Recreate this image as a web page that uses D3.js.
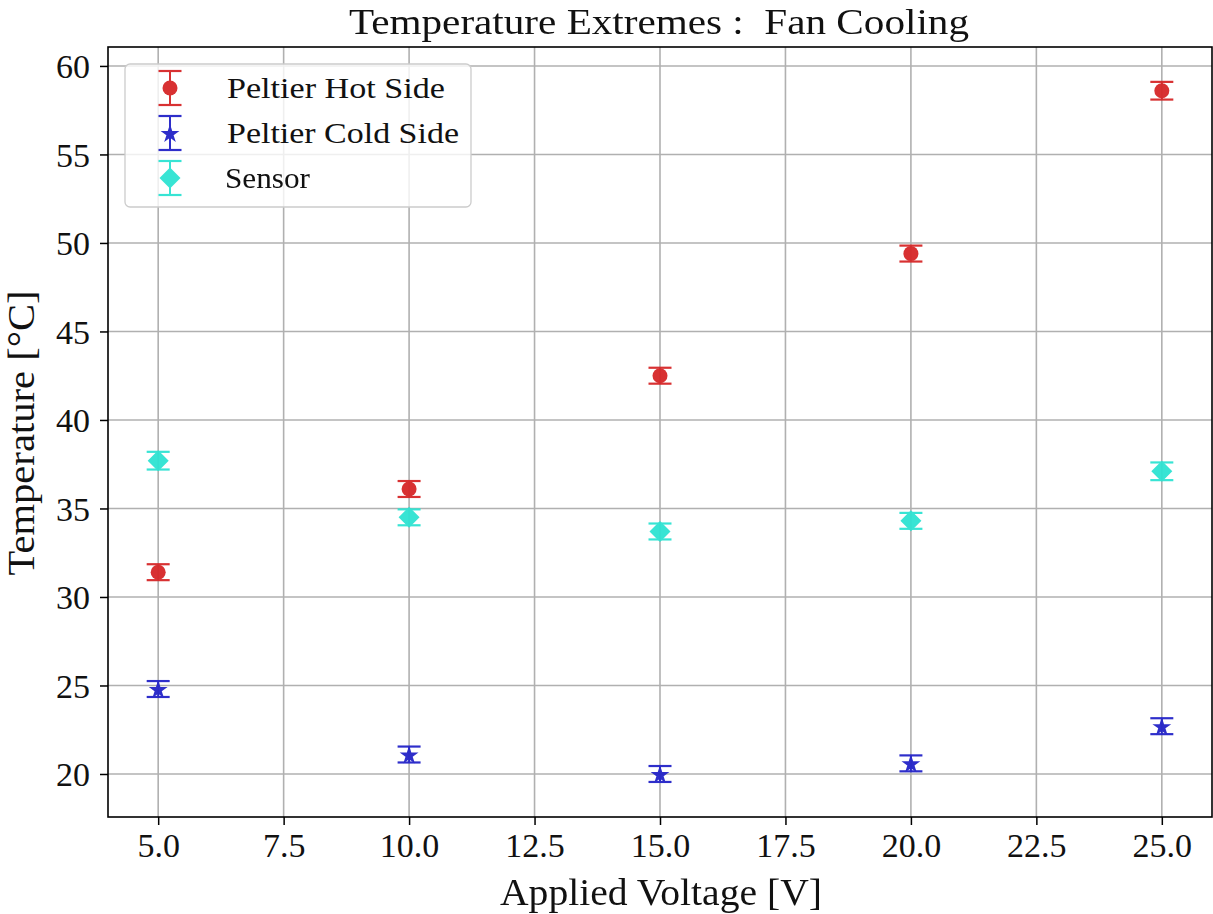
<!DOCTYPE html>
<html><head><meta charset="utf-8">
<script src="https://cdn.jsdelivr.net/npm/d3@7"></script>
<style>
body{margin:0;background:#fff;}
text{font-family:"Liberation Serif","DejaVu Serif",serif;fill:#111;}
</style></head>
<body><svg id="c" width="1213" height="914"></svg>
<script>
const voltages = [5, 10, 15, 20, 25];
const hotSide = [31.4, 36.1, 42.5, 49.4, 58.6];
const hotErr = [0.45, 0.45, 0.45, 0.45, 0.5];
const coldSide = [24.8, 21.1, 20.0, 20.6, 22.7];
const coldErr = [0.45, 0.45, 0.45, 0.45, 0.45];
const sensor = [37.7, 34.5, 33.7, 34.3, 37.1];
const sensorErr = [0.5, 0.45, 0.45, 0.45, 0.5];
const xTicks = [5, 7.5, 10, 12.5, 15, 17.5, 20, 22.5, 25];
const yTicks = [20, 25, 30, 35, 40, 45, 50, 55, 60];
const seriesNames = ["Peltier Hot Side", "Peltier Cold Side", "Sensor"];

const svg = d3.select("#c");
const L = 108, R = 1212, T = 47, B = 817;
const x = d3.scaleLinear().domain([4, 26]).range([L, R]);
const y = d3.scaleLinear().domain([17.57, 61.07]).range([B, T]);

// grid
const g = svg.append("g");
g.selectAll(".gx").data(xTicks).enter().append("line")
  .attr("x1", d => x(d)).attr("x2", d => x(d)).attr("y1", T).attr("y2", B)
  .attr("stroke", "#b0b0b0").attr("stroke-width", 1.6);
g.selectAll(".gy").data(yTicks).enter().append("line")
  .attr("y1", d => y(d)).attr("y2", d => y(d)).attr("x1", L).attr("x2", R)
  .attr("stroke", "#b0b0b0").attr("stroke-width", 1.6);

// axes
const xAxis = d3.axisBottom(x).tickValues(xTicks).tickFormat(d3.format(".1f")).tickSizeOuter(0).tickSize(8).tickPadding(0);
const yAxis = d3.axisLeft(y).tickValues(yTicks).tickFormat(d3.format("d")).tickSizeOuter(0).tickSize(8).tickPadding(0);
const gx = svg.append("g").attr("transform", `translate(0,${B})`).call(xAxis);
const gy = svg.append("g").attr("transform", `translate(${L},0)`).call(yAxis);
[gx, gy].forEach(a => {
  a.select(".domain").remove();
  a.selectAll(".tick line").attr("stroke", "#000").attr("stroke-width", 1.5);
  a.selectAll(".tick text").style("font-size", "34px").attr("fill", "#111");
});
gx.selectAll(".tick text").attr("y", 40).attr("dy", 0);
gy.selectAll(".tick text").attr("x", -18).attr("dy", "0.34em");

// frame
svg.append("rect").attr("x", L).attr("y", T).attr("width", R - L).attr("height", B - T)
  .attr("fill", "none").attr("stroke", "#000").attr("stroke-width", 1.6);

// markers
const colors = ["#d62728", "#2323c8", "#2ee3d2"];
function drawMarker(sel, type, cx, cy, color) {
  if (type === 0) {
    sel.append("circle").attr("cx", cx).attr("cy", cy).attr("r", 7.5).attr("fill", color);
  } else if (type === 1) {
    sel.append("path").attr("d", d3.symbol(d3.symbolStar, 110)()).attr("transform", `translate(${cx},${cy + 1})`).attr("fill", color);
  } else {
    const s = 10.5;
    sel.append("path").attr("d", `M${cx},${cy - s}L${cx + s},${cy}L${cx},${cy + s}L${cx - s},${cy}Z`).attr("fill", color);
  }
}
function errbar(sel, cx, yTop, yBot, color) {
  sel.append("line").attr("x1", cx).attr("x2", cx).attr("y1", yTop).attr("y2", yBot).attr("stroke", color).attr("stroke-width", 2);
  [yTop, yBot].forEach(yy => sel.append("line").attr("x1", cx - 11.5).attr("x2", cx + 11.5).attr("y1", yy).attr("y2", yy).attr("stroke", color).attr("stroke-width", 2.2));
}
const series = [[hotSide, hotErr], [coldSide, coldErr], [sensor, sensorErr]];
series.forEach(([vals, errs], si) => {
  const sg = svg.append("g").attr("opacity", 0.95);
  vals.forEach((v, i) => {
    errbar(sg, x(voltages[i]), y(v + errs[i]), y(v - errs[i]), colors[si]);
    drawMarker(sg, si, x(voltages[i]), y(v), colors[si]);
  });
});

// legend
const lg = svg.append("g");
lg.append("rect").attr("x", 125).attr("y", 64).attr("width", 346).attr("height", 143).attr("rx", 5)
  .attr("fill", "rgba(255,255,255,0.8)").attr("stroke", "#cccccc").attr("stroke-width", 1.3);
const legY = [88, 133, 178];
const legW = [218, 232, 85];
seriesNames.forEach((n, i) => {
  const sg = lg.append("g").attr("opacity", 0.95);
  errbar(sg, 170, legY[i] - 17, legY[i] + 17, colors[i]);
  drawMarker(sg, i, 170, legY[i], colors[i]);
  lg.append("text").attr("x", i === 2 ? 225 : 227).attr("y", legY[i] + 10)
    .style("font-size", "29px").attr("textLength", legW[i]).attr("lengthAdjust", "spacingAndGlyphs").text(n);
});

// titles
svg.append("text").attr("x", 659).attr("y", 34).attr("text-anchor", "middle")
  .style("font-size", "36px").attr("textLength", 620).attr("lengthAdjust", "spacingAndGlyphs").text("Temperature Extremes :\u00A0\u00A0Fan Cooling");
svg.append("text").attr("x", 661).attr("y", 905).attr("text-anchor", "middle")
  .style("font-size", "37px").attr("textLength", 322).attr("lengthAdjust", "spacingAndGlyphs").text("Applied Voltage [V]");
svg.append("text").attr("transform", "translate(34,433) rotate(-90)").attr("text-anchor", "middle")
  .style("font-size", "37px").attr("textLength", 285).attr("lengthAdjust", "spacingAndGlyphs").text("Temperature [°C]");
</script></body></html>
